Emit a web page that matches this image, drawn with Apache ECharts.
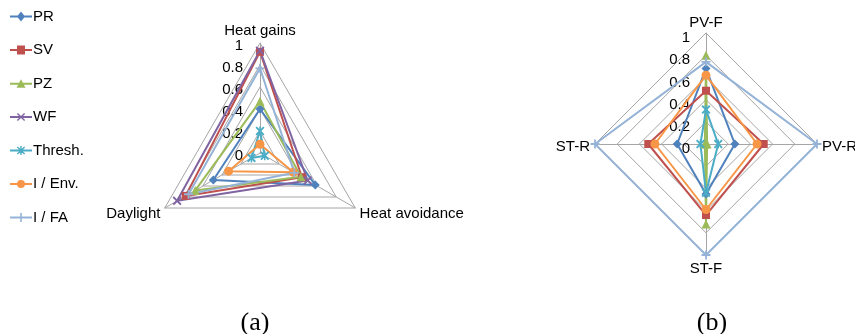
<!DOCTYPE html>
<html>
<head>
<meta charset="utf-8">
<script src="https://cdn.jsdelivr.net/npm/echarts@6/dist/echarts.min.js"></script>
<style>html,body{margin:0;padding:0;background:#fff}#c{width:855px;height:334px}</style>
</head>
<body>
<div id="c"></div>
<script>
// ---- data ----
const seriesNames = ['PR', 'SV', 'PZ', 'WF', 'Thresh.', 'I / Env.', 'I / FA'];
const axesA = ['Heat gains', 'Daylight', 'Heat avoidance'];
const axesB = ['PV-F', 'ST-R', 'ST-F', 'PV-R'];
// chart (a): [Heat gains, Daylight, Heat avoidance]
const a_PR = [0.40, 0.49, 0.58];
const a_SV = [0.92, 0.78, 0.44];
const a_PZ = [0.47, 0.68, 0.43];
const a_WF = [0.93, 0.87, 0.50];
const a_Thresh = [0.20, 0.09, 0.05];
const a_IEnv = [0.08, 0.33, 0.35];
const a_IFA = [0.77, 0.75, 0.36];
// chart (b): [PV-F, ST-R, ST-F, PV-R]
const b_PR = [0.68, 0.26, 0.45, 0.26];
const b_SV = [0.48, 0.52, 0.64, 0.52];
const b_PZ = [0.80, 0.01, 0.72, 0.01];
const b_Thresh = [0.31, 0.05, 0.44, 0.11];
const b_IEnv = [0.62, 0.46, 0.59, 0.46];
const b_IFA = [0.74, 1.00, 1.00, 1.00];
const captions = ['(a)', '(b)'];

// ---- styles ----
const colors = {
  'PR': '#4F81BD', 'SV': '#C0504D', 'PZ': '#9BBB59', 'WF': '#8064A2',
  'Thresh.': '#4BACC6', 'I / Env.': '#F79646', 'I / FA': '#95B3D7'
};
const X = 'M0,1.5L1.5,0L5,3.5L8.5,0L10,1.5L6.5,5L10,8.5L8.5,10L5,6.5L1.5,10L0,8.5L3.5,5Z';
const symbols = {
  'PR': 'diamond', 'SV': 'rect', 'PZ': 'triangle',
  'WF': 'path://' + X,
  'Thresh.': 'path://' + X + ' M4.2,0H5.8V10H4.2Z',
  'I / Env.': 'circle',
  'I / FA': 'path://M4,0H6V4H10V6H6V10H4V6H0V4H4Z'
};
const symSize = {'PR': 9, 'SV': 8, 'PZ': 9, 'WF': 9, 'Thresh.': 9, 'I / Env.': 9, 'I / FA': 9};
const LINE = 'M0,4H22V6H0Z';
const legendIcons = {
  'PR': 'path://M0,4H7.8L11,0L14.2,4H22V6H14.2L11,10L7.8,6H0Z',
  'SV': 'path://M0,4H7V0.5H15V4H22V6H15V9.5H7V6H0Z',
  'PZ': 'path://M0,4H9.15L11,0.5L12.85,4H22V6H13.91L15.5,9H6.5L8.09,6H0Z',
  'WF': 'path://' + LINE + ' M6.9,1.9L7.9,0.9L11,4L14.1,0.9L15.1,1.9L12,5L15.1,8.1L14.1,9.1L11,6L7.9,9.1L6.9,8.1L10,5Z',
  'Thresh.': 'path://' + LINE + ' M6.9,1.9L7.9,0.9L11,4L14.1,0.9L15.1,1.9L12,5L15.1,8.1L14.1,9.1L11,6L7.9,9.1L6.9,8.1L10,5Z M10.3,0.5H11.7V9.5H10.3Z',
  'I / Env.': 'path://' + LINE + ' M7,5A4,4 0 1,1 15,5A4,4 0 1,1 7,5Z',
  'I / FA': 'path://' + LINE + ' M10.2,0.5H11.8V9.5H10.2Z'
};

const FONT = 'Liberation Sans, Arial, Helvetica, sans-serif';
const gridColor = '#a6a6a6';

// nameVA: per-indicator [verticalAlign, lineHeight] used to place the axis names
function indicators(names, nameVA, labelLH, labelMargin) {
  return names.map((n, i) => {
    const o = {name: n, min: 0, max: 1,
      nameTextStyle: {verticalAlign: nameVA[i][0], lineHeight: nameVA[i][1]}};
    if (i === 0) {
      o.axisLabel = {show: true, color: '#000', fontSize: 15, fontFamily: FONT,
                     margin: labelMargin, verticalAlign: 'top', lineHeight: labelLH};
    }
    return o;
  });
}
function radarCfg(names, center, radius, nameVA, labelLH, labelMargin) {
  return {
    indicator: indicators(names, nameVA, labelLH, labelMargin),
    center: center,
    radius: radius,
    startAngle: 90,
    shape: 'polygon',
    splitNumber: 5,
    nameGap: 5,
    axisName: {color: '#000', fontSize: 15, fontFamily: FONT},
    axisLine: {lineStyle: {color: gridColor, width: 1}},
    splitLine: {lineStyle: {color: gridColor, width: 1}},
    splitArea: {show: false},
    axisTick: {show: false},
    axisLabel: {show: false}
  };
}
function mkSeries(name, radarIndex, values) {
  return {
    type: 'radar',
    name: name,
    radarIndex: radarIndex,
    symbol: symbols[name],
    symbolSize: symSize[name],
    itemStyle: {color: colors[name]},
    lineStyle: {color: colors[name], width: 2},
    emphasis: {disabled: true},
    data: [{value: values, name: name}]
  };
}

const seriesA = [
  ['PR', a_PR], ['SV', a_SV], ['PZ', a_PZ], ['WF', a_WF],
  ['Thresh.', a_Thresh], ['I / Env.', a_IEnv], ['I / FA', a_IFA]
].map(p => mkSeries(p[0], 0, p[1]));
const seriesB = [
  ['PR', b_PR], ['SV', b_SV], ['PZ', b_PZ],
  ['Thresh.', b_Thresh], ['I / Env.', b_IEnv], ['I / FA', b_IFA]
].map(p => mkSeries(p[0], 1, p[1]));

const capStyle = {fontFamily: 'Liberation Serif, serif', fontWeight: 'normal', fontSize: 26, color: '#000'};
const chart = echarts.init(document.getElementById('c'), null, {renderer: 'canvas'});
chart.setOption({
  animation: false,
  backgroundColor: '#fff',
  title: [
    {text: captions[0], left: 250, top: 305, textAlign: 'center', textStyle: capStyle},
    {text: captions[1], left: 707, top: 305, textAlign: 'center', textStyle: capStyle}
  ],
  legend: {
    orient: 'vertical',
    left: 5,
    top: 4,
    itemWidth: 22,
    itemHeight: 10,
    itemGap: 18.5,
    selectedMode: false,
    textStyle: {fontFamily: FONT, fontSize: 15, color: '#000', padding: [0, 0, 0, -4]},
    data: seriesNames.map(n => ({name: n, icon: legendIcons[n], itemStyle: {color: colors[n]}}))
  },
  radar: [
    radarCfg(axesA, [260, 153], 110, [['bottom', 12], ['top', 7], ['top', 7]], 6, 17),
    radarCfg(axesB, [706, 144], 111, [['bottom', 8], ['top', 6], ['top', 18], ['top', 6]], 10, 16)
  ],
  series: seriesA.concat(seriesB)
});
</script>
</body>
</html>
